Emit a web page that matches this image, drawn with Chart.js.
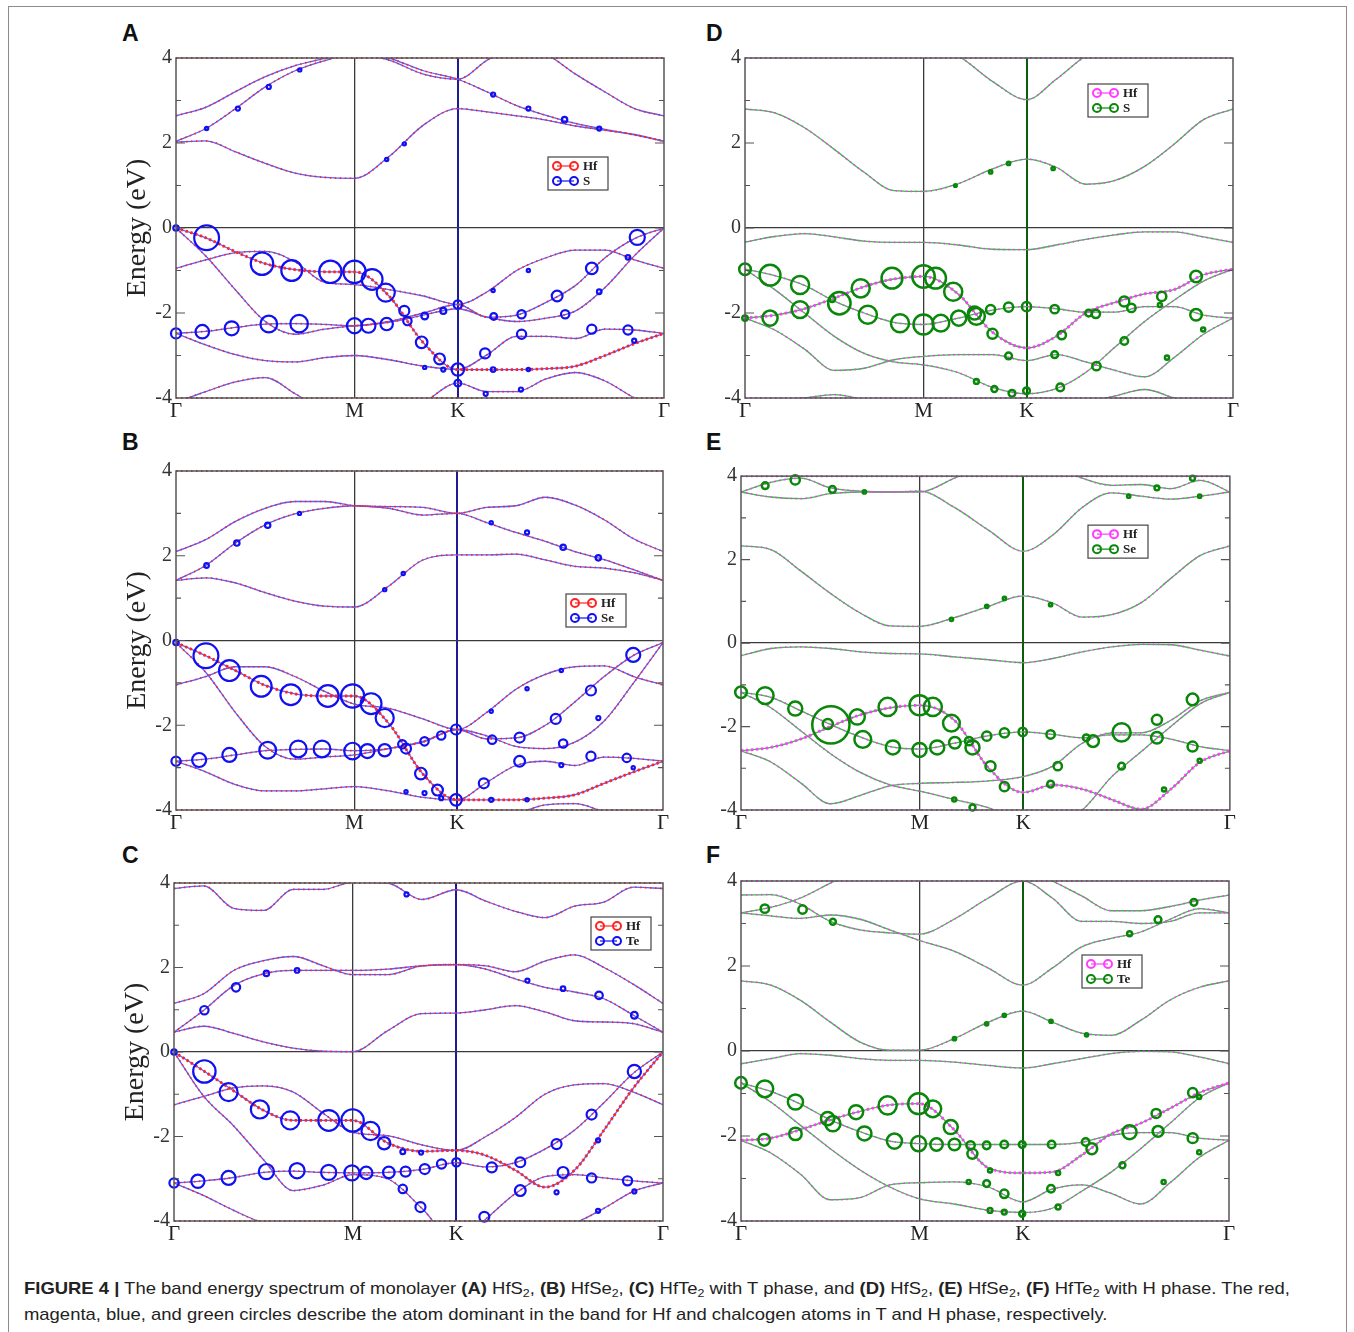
<!DOCTYPE html>
<html>
<head>
<meta charset="utf-8">
<script src="https://cdn.jsdelivr.net/npm/chart.js@4.4.1/dist/chart.umd.min.js"></script>
<style>
  body { margin: 0; background: #fff; width: 1354px; height: 1332px; position: relative; overflow: hidden; font-family: "Liberation Sans", Arial, sans-serif; }
  .outline { position: absolute; left: 8px; top: 6px; width: 1337px; height: 1400px; border: 1px solid #8c8c8c; }
  .tag { position: absolute; font: bold 23px/1 "Liberation Sans", Arial, sans-serif; color: #111; }
  .panel { position: absolute; }
  .caption { position: absolute; left: 24px; top: 1275px; font-size: 16.4px; line-height: 26px; color: #222; white-space: nowrap;
             transform: scaleX(1.125); transform-origin: 0 0; }
  .caption sub { font-size: 11px; line-height: 0; vertical-align: -3px; }
</style>
</head>
<body>
<div class="outline"></div>
<div class="tag" style="left:122px;top:22px">A</div>
<div class="tag" style="left:122px;top:431px">B</div>
<div class="tag" style="left:122px;top:844px">C</div>
<div class="tag" style="left:706px;top:22px">D</div>
<div class="tag" style="left:706px;top:431px">E</div>
<div class="tag" style="left:706px;top:844px">F</div>

<canvas id="panelA" class="panel"></canvas>
<canvas id="panelB" class="panel"></canvas>
<canvas id="panelC" class="panel"></canvas>
<canvas id="panelD" class="panel"></canvas>
<canvas id="panelE" class="panel"></canvas>
<canvas id="panelF" class="panel"></canvas>

<div class="caption"><b>FIGURE 4 |</b> The band energy spectrum of monolayer <b>(A)</b> HfS<sub>2</sub>, <b>(B)</b> HfSe<sub>2</sub>, <b>(C)</b> HfTe<sub>2</sub> with T phase, and <b>(D)</b> HfS<sub>2</sub>, <b>(E)</b> HfSe<sub>2</sub>, <b>(F)</b> HfTe<sub>2</sub> with H phase. The red,<br>magenta, blue, and green circles describe the atom dominant in the band for Hf and chalcogen atoms in T and H phase, respectively.</div>

<script>
// k-path Γ-M-K-Γ, distances in units of 2π/a
const kGrid = [0, 0.0962, 0.1925, 0.2887, 0.3849, 0.4811, 0.5774, 0.6885, 0.7996, 0.9107,
               1.0060, 1.1012, 1.1964, 1.2917, 1.3869, 1.4821, 1.5774];
const kTicks = [0, 0.5774, 0.9107, 1.5774];
const kLabels = ['Γ', 'M', 'K', 'Γ'];
const eTicks = [-4, -2, 0, 2, 4];

// band energies (eV) on kGrid, one row per band
const bandsA = [
  [2.02, 2.05, 1.79, 1.52, 1.29, 1.19, 1.17, 1.68, 2.42, 2.81, 2.73, 2.64, 2.54, 2.4, 2.3, 2.2, 2.04],
  [2.04, 2.34, 2.81, 3.32, 3.70, 3.94, 4.1, 3.95, 3.62, 3.5, 3.95, 4.3, 4.5, 4.6, 4.6, 4.5, 4.4],
  [2.64, 2.84, 3.21, 3.56, 3.82, 3.99, 4.15, 4.0, 3.7, 3.5, 3.2, 2.88, 2.65, 2.46, 2.32, 2.19, 2.04],
  [4.6, 4.6, 4.6, 4.5, 4.4, 4.3, 4.3, 4.4, 4.5, 4.6, 4.6, 4.4, 4.1, 3.62, 3.2, 2.81, 2.64],
  [0, -0.23, -0.56, -0.84, -0.98, -1.03, -1.03, -1.6, -2.7, -3.33, -3.33, -3.33, -3.31, -3.25, -3.0, -2.72, -2.48],
  [0, -0.66, -1.46, -2.2, -2.5, -2.38, -2.3, -2.22, -2.05, -1.9, -2.1, -2.2, -2.12, -1.95, -1.4, -0.65, 0],
  [-0.95, -0.75, -0.58, -0.55, -0.8, -1.28, -1.33, -1.45, -1.6, -1.8, -1.5, -1.0, -0.7, -0.52, -0.52, -0.75, -0.95],
  [-2.48, -2.43, -2.34, -2.26, -2.25, -2.27, -2.3, -2.2, -2.0, -1.8, -2.1, -2.05, -1.75, -1.35, -0.7, -0.25, 0],
  [-2.48, -2.75, -2.98, -3.12, -3.15, -3.05, -3.0, -3.1, -3.25, -3.33, -2.98, -2.55, -2.55, -2.6, -2.38, -2.4, -2.48],
  [-4.1, -3.85, -3.62, -3.52, -3.9, -4.3, -4.5, -4.4, -4.1, -3.65, -3.85, -3.85, -3.55, -3.4, -3.6, -4.0, -4.3]
];
const bandsB = [
  [1.42, 1.48, 1.36, 1.13, 0.93, 0.81, 0.79, 1.28, 1.9, 2.02, 2.02, 2.04, 1.9, 1.75, 1.71, 1.6, 1.42],
  [1.42, 1.77, 2.3, 2.73, 2.99, 3.12, 3.18, 3.12, 2.96, 3.0, 2.78, 2.55, 2.34, 2.1, 1.91, 1.67, 1.42],
  [2.1, 2.38, 2.81, 3.12, 3.28, 3.28, 3.18, 3.16, 3.14, 3.0, 3.14, 3.18, 3.38, 3.2, 2.85, 2.4, 2.1],
  [-0.05, -0.36, -0.71, -1.06, -1.26, -1.31, -1.31, -1.95, -3.15, -3.76, -3.76, -3.76, -3.72, -3.64, -3.37, -3.1, -2.85],
  [-0.05, -0.75, -1.7, -2.5, -2.8, -2.75, -2.7, -2.55, -2.4, -2.1, -2.25, -2.5, -2.55, -2.4, -1.9, -1.0, -0.05],
  [-1.05, -0.85, -0.62, -0.62, -0.85, -1.2, -1.5, -1.6, -1.85, -2.1, -1.7, -1.15, -0.8, -0.62, -0.6, -0.85, -1.05],
  [-2.85, -2.8, -2.7, -2.6, -2.57, -2.56, -2.6, -2.55, -2.38, -2.1, -2.32, -2.3, -2.0, -1.45, -0.85, -0.35, -0.05],
  [-2.85, -3.1, -3.4, -3.55, -3.55, -3.5, -3.45, -3.55, -3.7, -3.76, -3.35, -2.95, -2.85, -2.95, -2.75, -2.78, -2.85],
  [-4.3, -4.15, -4.05, -4.0, -4.15, -4.4, -4.6, -4.6, -4.5, -4.4, -4.3, -4.1, -3.88, -3.85, -4.05, -4.3, -4.4]
];
const bandsC = [
  [0.47, 0.61, 0.44, 0.24, 0.09, 0.02, 0.01, 0.5, 0.91, 0.92, 1.0, 1.1, 0.95, 0.74, 0.71, 0.67, 0.47],
  [0.47, 0.99, 1.57, 1.85, 1.93, 1.93, 1.93, 1.96, 2.04, 2.07, 1.96, 1.73, 1.53, 1.42, 1.26, 0.87, 0.47],
  [1.15, 1.38, 1.93, 2.16, 2.26, 2.04, 1.83, 1.83, 2.04, 2.07, 2.04, 1.9, 2.15, 2.3, 2.0, 1.6, 1.15],
  [3.87, 3.93, 3.4, 3.35, 3.85, 3.85, 4.02, 4.0, 3.61, 3.84, 3.57, 3.33, 3.18, 3.45, 3.55, 3.9, 3.87],
  [0, -0.45, -0.92, -1.38, -1.62, -1.62, -1.62, -2.15, -2.35, -2.33, -2.45, -2.8, -3.2, -2.8, -1.85, -0.85, 0],
  [0, -1.05, -1.75, -2.55, -3.28, -3.15, -2.9, -3.0, -3.7, -4.5, -3.95, -3.35, -2.95, -2.9, -2.98, -3.05, -3.1],
  [-1.25, -1.05, -0.85, -0.8, -0.95, -1.45, -1.9, -1.98, -2.2, -2.33, -2.0, -1.55, -1.0, -0.78, -0.75, -0.95, -1.25],
  [-3.1, -3.05, -2.97, -2.85, -2.82, -2.85, -2.86, -2.85, -2.78, -2.62, -2.72, -2.62, -2.3, -1.85, -1.2, -0.5, 0],
  [-3.1, -3.4, -3.75, -4.05, -4.2, -4.3, -4.4, -4.5, -4.5, -4.5, -4.4, -4.3, -4.2, -4.05, -3.7, -3.3, -3.1]
];
const bandsD = [
  [2.8, 2.71, 2.36, 1.85, 1.31, 0.88, 0.86, 1.04, 1.39, 1.62, 1.43, 1.03, 1.12, 1.45, 1.97, 2.55, 2.8],
  [4.6, 4.6, 4.6, 4.6, 4.6, 4.5, 4.3, 4.05, 3.45, 3.02, 3.5, 4.05, 4.4, 4.5, 4.6, 4.6, 4.6],
  [-0.33, -0.2, -0.13, -0.21, -0.31, -0.34, -0.34, -0.4, -0.5, -0.51, -0.4, -0.27, -0.16, -0.09, -0.09, -0.21, -0.34],
  [-2.12, -2.05, -1.9, -1.65, -1.38, -1.2, -1.14, -1.55, -2.45, -2.82, -2.55, -2.0, -1.75, -1.55, -1.45, -1.1, -0.97],
  [-0.97, -1.12, -1.35, -1.72, -2.0, -2.22, -2.27, -2.12, -1.93, -1.85, -1.9, -1.98, -1.98, -1.85, -1.85, -2.05, -2.12],
  [-2.12, -2.4, -2.85, -3.35, -3.3, -3.1, -3.02, -2.98, -2.98, -3.12, -2.98, -3.15, -3.35, -3.5, -3.05, -2.5, -2.12],
  [-0.97, -1.45, -2.0, -2.55, -2.95, -3.15, -3.22, -3.4, -3.75, -3.9, -3.78, -3.4, -2.8, -2.2, -1.7, -1.25, -0.97],
  [-4.1, -4.05, -4.0, -3.92, -4.05, -4.3, -4.5, -4.5, -4.4, -4.3, -4.2, -4.1, -3.95, -3.8, -4.0, -4.2, -4.3]
];
const bandsE = [
  [2.33, 2.24, 1.73, 1.19, 0.72, 0.41, 0.4, 0.61, 0.88, 1.13, 0.96, 0.62, 0.68, 0.97, 1.55, 2.1, 2.33],
  [3.62, 3.5, 3.46, 3.58, 3.62, 3.62, 3.64, 3.25, 2.7, 2.2, 2.59, 3.25, 3.6, 3.52, 3.45, 3.52, 3.62],
  [3.62, 3.85, 3.95, 3.72, 3.64, 3.62, 3.62, 3.95, 4.3, 4.5, 4.3, 3.95, 3.78, 3.8, 3.7, 3.9, 3.62],
  [-0.3, -0.13, -0.09, -0.13, -0.21, -0.25, -0.26, -0.33, -0.4, -0.47, -0.37, -0.21, -0.09, -0.03, -0.04, -0.17, -0.31],
  [-2.58, -2.5, -2.3, -2.0, -1.72, -1.55, -1.49, -1.85, -3.0, -3.58, -3.4, -3.5, -3.75, -3.98, -3.5, -2.85, -2.58],
  [-1.18, -1.3, -1.62, -1.95, -2.25, -2.48, -2.54, -2.4, -2.22, -2.13, -2.19, -2.27, -2.2, -2.2, -2.3, -2.48, -2.58],
  [-2.58, -2.85, -3.35, -3.85, -3.65, -3.42, -3.36, -3.34, -3.3, -3.2, -2.95, -2.4, -2.15, -2.15, -1.85, -1.38, -1.18],
  [-1.18, -1.55, -2.1, -2.65, -3.1, -3.4, -3.55, -3.75, -3.95, -4.3, -4.4, -4.0, -3.2, -2.6, -2.0, -1.45, -1.18]
];
const bandsF = [
  [1.65, 1.55, 1.19, 0.68, 0.21, 0.02, 0.02, 0.29, 0.68, 0.94, 0.68, 0.42, 0.37, 0.72, 1.2, 1.5, 1.65],
  [3.25, 3.18, 3.12, 3.2, 3.1, 2.85, 2.6, 2.35, 1.95, 1.55, 1.95, 2.45, 2.65, 2.8, 3.1, 3.35, 3.25],
  [3.67, 3.68, 3.45, 3.05, 2.85, 2.78, 2.75, 3.1, 3.6, 4.0, 3.6, 3.05, 3.05, 3.0, 3.05, 3.25, 3.25],
  [3.25, 3.38, 3.6, 3.95, 4.3, 4.5, 4.6, 4.6, 4.5, 4.3, 4.0, 3.65, 3.3, 3.3, 3.4, 3.55, 3.67],
  [-0.3, -0.18, -0.06, -0.1, -0.18, -0.22, -0.22, -0.26, -0.34, -0.4, -0.3, -0.18, -0.06, -0.01, -0.02, -0.14, -0.3],
  [-2.1, -2.05, -1.85, -1.62, -1.42, -1.27, -1.24, -1.85, -2.75, -2.87, -2.85, -2.45, -1.95, -1.7, -1.35, -0.98, -0.75],
  [-0.75, -0.95, -1.25, -1.62, -1.9, -2.12, -2.18, -2.2, -2.2, -2.2, -2.2, -2.15, -1.98, -1.92, -1.92, -2.05, -2.1],
  [-2.1, -2.4, -2.9, -3.5, -3.45, -3.15, -3.1, -3.08, -3.2, -3.55, -3.25, -3.15, -3.35, -3.6, -3.1, -2.5, -2.1],
  [-0.75, -1.2, -1.75, -2.3, -2.8, -3.2, -3.48, -3.6, -3.75, -3.8, -3.7, -3.3, -2.85, -2.3, -1.7, -1.1, -0.75]
];

// chalcogen projections: [k, E, weight]
const circlesA = [
  [0.099,-0.23,.92],[0.278,-0.84,.83],[0.374,-1.0,.77],[0.499,-1.03,.83],[0.577,-1.03,.83],[0.634,-1.21,.77],[0.678,-1.52,.67],
  [0.738,-1.95,.37],[0.748,-2.19,.31],[0.804,-2.07,.25],[0.864,-1.95,.22],[0.911,-1.8,.31],
  [0.794,-2.69,.43],[0.852,-3.08,.4],[0.911,-3.33,.46],[0.864,-3.33,.15],
  [0,-2.48,.37],[0.085,-2.44,.5],[0.18,-2.36,.52],[0.30,-2.26,.62],[0.398,-2.25,.65],[0.577,-2.3,.56],[0.622,-2.3,.52],[0.681,-2.26,.46],
  [0.911,-3.65,.25],[0.999,-2.95,.37],[1.117,-2.5,.34],[1.027,-2.08,.25],[1.117,-2.03,.31],[1.232,-1.6,.4],[1.344,-0.95,.43],[1.491,-0.22,.56],
  [1.258,-2.03,.31],[1.344,-2.38,.34],[1.461,-2.4,.34],
  [0,0,.2],[1.368,-1.5,.17],[1.461,-0.69,.17],[1.139,-1.0,.12],[1.025,-1.47,.12],[1.025,-3.33,.17],[1.139,-3.33,.12],[1.115,-3.8,.15],[1.001,-3.9,.15],[1.481,-2.65,.15],[0.804,-3.28,.12],
  [1.025,3.14,.15],[1.139,2.81,.15],[1.256,2.55,.2],[1.368,2.34,.15],[0.2,2.81,.15],[0.3,3.32,.15],[0.4,3.72,.12],[0.738,1.98,.12],[0.681,1.61,.12],[0.099,2.34,.12]
];
const circlesB = [
  [0.097,-0.36,.92],[0.173,-0.71,.77],[0.276,-1.08,.77],[0.372,-1.28,.77],[0.492,-1.31,.8],[0.572,-1.31,.86],[0.632,-1.49,.77],[0.676,-1.83,.67],
  [0.733,-2.45,.31],[0.745,-2.55,.37],[0.805,-2.38,.31],[0.859,-2.24,.31],[0.907,-2.1,.37],
  [0.793,-3.14,.43],[0.847,-3.53,.4],[0.907,-3.76,.43],[0.859,-3.72,.15],
  [0,-2.85,.34],[0.075,-2.82,.52],[0.173,-2.7,.52],[0.297,-2.59,.62],[0.396,-2.56,.62],[0.473,-2.56,.62],[0.572,-2.61,.62],[0.62,-2.61,.52],[0.676,-2.59,.46],
  [0.997,-3.37,.37],[1.113,-2.85,.4],[1.024,-2.34,.31],[1.113,-2.29,.37],[1.23,-1.85,.37],[1.344,-1.18,.37],[1.481,-0.34,.52],
  [1.254,-2.43,.31],[1.344,-2.73,.34],[1.46,-2.77,.31],
  [0,-0.05,.2],[1.368,-1.83,.15],[1.248,-0.71,.12],[1.137,-1.14,.12],[1.021,-1.67,.12],[1.021,-3.76,.15],[1.137,-3.76,.12],[1.481,-3.0,.12],[1.248,-2.94,.15],[0.805,-3.6,.15],[0.745,-3.57,.12],
  [1.021,2.78,.12],[1.137,2.55,.15],[1.254,2.2,.2],[1.368,1.95,.2],[0.099,1.77,.17],[0.197,2.3,.2],[0.297,2.72,.2],[0.4,3.0,.12],[0.676,1.2,.12],[0.736,1.58,.12]
];
const circlesC = [
  [0.098,-0.46,.83],[0.176,-0.95,.67],[0.277,-1.36,.67],[0.375,-1.62,.67],[0.499,-1.62,.77],[0.576,-1.62,.83],[0.634,-1.87,.67],[0.678,-2.16,.46],[0.738,-2.36,.18],
  [0,-3.1,.34],[0.077,-3.06,.49],[0.176,-2.98,.52],[0.298,-2.83,.56],[0.397,-2.81,.56],[0.499,-2.85,.56],[0.574,-2.86,.56],[0.62,-2.86,.46],[0.693,-2.85,.43],[0.747,-2.83,.37],[0.809,-2.77,.37],[0.863,-2.65,.34],[0.911,-2.61,.31],
  [0.738,-3.24,.31],[0.795,-3.67,.37],[1.001,-3.9,.37],[1.025,-2.73,.37],[1.117,-2.61,.37],[1.117,-3.28,.4],[1.255,-2.85,.4],[1.234,-2.18,.37],[1.347,-1.48,.37],[1.485,-0.46,.49],[1.347,-2.98,.34],[1.463,-3.05,.34],
  [0.098,0.99,.31],[0.2,1.53,.31],[1.371,1.34,.28],[1.485,0.87,.25],
  [0,0,.2],[0.298,1.86,.2],[0.397,1.93,.17],[1.255,1.5,.17],[1.14,1.69,.15],[1.368,-2.09,.15],[1.485,-3.3,.15],[1.234,-3.32,.15],[1.368,-3.76,.15],[0.797,-2.38,.15],[0.75,3.73,.15]
];
const circlesD = [
  [0,-0.97,.43],[0.081,-1.11,.77],[0.178,-1.34,.67],[0.305,-1.77,.83],[0.397,-2.04,.67],[0.501,-2.24,.67],[0.577,-2.27,.74],[0.633,-2.24,.62],[0.691,-2.12,.56],[0.742,-2.0,.49],[0.794,-1.92,.34],[0.852,-1.86,.34],[0.91,-1.85,.34],[1.001,-1.91,.31],[1.111,-2.0,.25],[1.134,-2.02,.31],[1.458,-2.04,.43],
  [0.081,-2.12,.56],[0.178,-1.92,.62],[0.282,-1.67,.22],[0.374,-1.42,.67],[0.475,-1.18,.77],[0.577,-1.14,.83],[0.616,-1.18,.77],[0.673,-1.5,.67],[0.748,-2.08,.62],[0.8,-2.49,.37],[1.024,-2.52,.31],[1.226,-1.73,.37],[1.249,-1.88,.31],[1.347,-1.61,.34],[1.458,-1.14,.43],
  [0.852,-3.01,.25],[1.001,-2.98,.25],[1.136,-3.25,.31],[1.226,-2.66,.28],[0.748,-3.61,.18],[0.806,-3.79,.22],[0.863,-3.89,.25],[0.91,-3.83,.25],[1.019,-3.75,.28],
  [0,-2.12,.2],[1.364,-3.05,.15],[1.341,-1.81,.15],[1.481,-2.39,.15],[0.68,1.0,.1],[0.794,1.32,.12],[0.852,1.52,.12],[0.996,1.4,.12]
];
const circlesE = [
  [0,-1.18,.43],[0.078,-1.26,.62],[0.175,-1.57,.52],[0.29,-1.96,1.38],[0.28,-1.94,.37],[0.375,-1.77,.56],[0.393,-2.31,.62],[0.473,-1.53,.67],[0.49,-2.5,.52],[0.576,-1.49,.74],[0.576,-2.56,.52],[0.619,-1.53,.67],[0.633,-2.5,.52],[0.679,-1.92,.62],[0.69,-2.39,.43],[0.736,-2.35,.31],[0.747,-2.5,.52],[0.793,-2.23,.34],[0.85,-2.15,.34],[0.909,-2.13,.31],[0.805,-2.95,.37],[0.85,-3.44,.34],
  [0.999,-2.19,.31],[1.022,-2.95,.31],[0.999,-3.38,.25],[1.114,-2.27,.25],[1.136,-2.35,.43],[1.228,-2.14,.67],[1.228,-2.95,.25],[1.342,-1.84,.37],[1.342,-2.27,.43],[1.457,-1.35,.43],[1.457,-2.48,.37],
  [0.078,3.77,.25],[0.175,3.91,.34],[0.295,3.68,.25],[1.342,3.72,.18],[1.457,3.95,.18],[0.747,-3.94,.22],[0.688,-3.75,.15],
  [1.48,-2.82,.15],[1.365,-3.51,.15],[0.679,0.57,.12],[0.793,0.88,.12],[0.85,1.07,.12],[0.999,0.92,.12],[0.398,3.62,.12],[1.251,3.52,.12],[1.48,3.52,.12]
];
const circlesF = [
  [0,-0.75,.43],[0.077,-0.89,.62],[0.176,-1.2,.56],[0.28,-1.59,.49],[0.297,-1.71,.56],[0.399,-1.94,.52],[0.496,-2.12,.56],[0.574,-2.18,.56],[0.632,-2.2,.46],[0.69,-2.2,.43],[0.742,-2.22,.31],[0.794,-2.22,.28],[0.851,-2.2,.28],[0.909,-2.2,.25],[1.004,-2.2,.28],[1.114,-2.14,.28],[1.348,-1.89,.4],[1.46,-2.05,.37],
  [0.075,-2.09,.43],[0.176,-1.95,.46],[0.372,-1.44,.52],[0.474,-1.28,.67],[0.574,-1.24,.77],[0.62,-1.36,.62],[0.678,-1.79,.52],[0.748,-2.42,.37],[1.134,-2.3,.4],[1.256,-1.91,.52],[1.342,-1.47,.34],[1.46,-0.98,.34],
  [0.794,-3.12,.25],[0.851,-3.36,.31],[1.002,-3.24,.28],[0.851,-3.79,.18],[0.909,-3.83,.22],[1.025,-3.67,.18],[0.805,-3.75,.18],[1.233,-2.69,.22],
  [0.077,3.35,.31],[0.199,3.33,.31],[0.297,3.04,.22],[1.464,3.5,.25],[1.348,3.09,.25],[1.256,2.76,.18],
  [1.481,-2.38,.15],[1.366,-3.08,.15],[0.736,-3.08,.15],[0.805,-2.81,.15],[1.025,-2.87,.15],[1.481,-1.08,.15],[0.69,0.29,.12],[0.794,0.64,.12],[0.851,0.84,.12],[1.002,0.7,.12],[1.117,0.38,.12]
];

const legendA = ['Hf', 'S'];
const legendB = ['Hf', 'Se'];
const legendC = ['Hf', 'Te'];
const legendD = ['Hf', 'S'];
const legendE = ['Hf', 'Se'];
const legendF = ['Hf', 'Te'];

const SERIF = '"Liberation Serif", "Times New Roman", serif';
const T_PHASE = { band: '#5c5cff', hf: '#ff2424', atom: '#1010f0', kLine: '#1c1c94', ring: 2.2 };
const H_PHASE = { band: '#3db84a', hf: '#ff3cff', atom: '#0a860a', kLine: '#0c5e0c', ring: 2.5 };
const R_MAX = 13.5;
const Y_WIDTH = 60, PAD_TOP = 14, PAD_RIGHT = 16, X_HEIGHT = 34;

// frame, inward ticks, edge dots and the small legend box
const panelFrame = {
  id: 'panelFrame',
  afterDatasetsDraw(chart, args, o) {
    const { ctx, chartArea: a, scales: { y } } = chart;
    ctx.save();
    ctx.setLineDash([1.6, 3.4]);
    ctx.lineWidth = 2;
    ctx.strokeStyle = o.colors.hf;
    [a.top, a.bottom].forEach(py => {
      ctx.beginPath(); ctx.moveTo(a.left, py); ctx.lineTo(a.right, py); ctx.stroke();
    });
    ctx.setLineDash([]);
    ctx.strokeStyle = '#555';
    ctx.lineWidth = 1.5;
    ctx.strokeRect(a.left, a.top, a.right - a.left, a.bottom - a.top);
    ctx.lineWidth = 1.2;
    for (let e = -3; e <= 3; e++) {
      const py = y.getPixelForValue(e);
      const len = e % 2 === 0 ? 9 : 5;
      ctx.beginPath();
      ctx.moveTo(a.left, py); ctx.lineTo(a.left + len, py);
      ctx.moveTo(a.right, py); ctx.lineTo(a.right - len, py);
      ctx.stroke();
    }
    ctx.restore();
  },
  afterDraw(chart, args, o) {
    const { ctx, chartArea: a } = chart;
    const bx = a.left + o.legendAt[0], by = a.top + o.legendAt[1];
    ctx.save();
    ctx.fillStyle = '#fff';
    ctx.fillRect(bx, by, 60, 33);
    ctx.strokeStyle = '#444';
    ctx.lineWidth = 1.2;
    ctx.strokeRect(bx, by, 60, 33);
    o.legend.forEach((label, i) => {
      const cy = by + 9 + i * 15;
      const col = i === 0 ? o.colors.hf : o.colors.atom;
      ctx.strokeStyle = col;
      ctx.lineWidth = 1.2;
      ctx.beginPath(); ctx.moveTo(bx + 9, cy); ctx.lineTo(bx + 26, cy); ctx.stroke();
      ctx.lineWidth = 2;
      [bx + 9, bx + 26].forEach(cx => {
        ctx.beginPath(); ctx.arc(cx, cy, 4, 0, Math.PI * 2); ctx.stroke();
      });
      ctx.fillStyle = '#222';
      ctx.font = 'bold 13px ' + SERIF;
      ctx.textBaseline = 'middle';
      ctx.fillText(label, bx + 35, cy + 1);
    });
    ctx.restore();
  }
};

function bandPanel(id, rect, bands, heavy, circles, legend, legendAt, colors, showTitle) {
  const [L, T, R, B] = rect;
  const el = document.getElementById(id);
  el.width = (R - L) + Y_WIDTH + PAD_RIGHT;
  el.height = (B - T) + PAD_TOP + X_HEIGHT;
  el.style.left = (L - Y_WIDTH) + 'px';
  el.style.top = (T - PAD_TOP) + 'px';

  const datasets = [];
  bands.forEach((band, i) => {
    const pts = band.map((e, j) => ({ x: kGrid[j], y: e }));
    datasets.push({ data: pts, borderColor: colors.band, borderWidth: 1.3, pointRadius: 0,
      cubicInterpolationMode: 'monotone', order: 3 });
    datasets.push({ data: pts, borderColor: colors.hf, pointRadius: 0,
      borderWidth: i === heavy ? 2.8 : 1.7, borderDash: i === heavy ? [2.4, 2.6] : [1.4, 3.6],
      cubicInterpolationMode: 'monotone', order: 2 });
  });
  datasets.push({
    type: 'bubble',
    data: circles.map(([k, e, w]) => ({ x: k, y: e, r: w * R_MAX })),
    borderColor: colors.atom, backgroundColor: 'rgba(0,0,0,0)', borderWidth: colors.ring,
    clip: false, order: 1
  });

  return new Chart(el, {
    type: 'line',
    data: { datasets },
    options: {
      responsive: false,
      animation: false,
      events: [],
      layout: { padding: { left: 0, top: PAD_TOP, right: PAD_RIGHT, bottom: 0 } },
      plugins: {
        legend: { display: false },
        tooltip: { enabled: false },
        panelFrame: { legend, legendAt, colors }
      },
      scales: {
        x: {
          type: 'linear', min: 0, max: kTicks[3],
          afterBuildTicks: s => { s.ticks = kTicks.map(v => ({ value: v })); },
          afterFit: s => { s.height = X_HEIGHT; },
          ticks: { callback: (v, i) => kLabels[i], autoSkip: false, maxRotation: 0, padding: 1,
                   font: { family: SERIF, size: 21 }, color: '#222' },
          grid: {
            drawTicks: false,
            color: c => c.index === 1 ? '#3a3a3a' : c.index === 2 ? colors.kLine : 'rgba(0,0,0,0)',
            lineWidth: c => c.index === 2 ? 2 : 1.3
          },
          border: { display: false }
        },
        y: {
          min: -4, max: 4,
          afterBuildTicks: s => { s.ticks = eTicks.map(v => ({ value: v })); },
          afterFit: s => { s.width = Y_WIDTH; },
          ticks: { callback: v => String(v), padding: 4, font: { family: SERIF, size: 20 }, color: '#333' },
          grid: {
            drawTicks: false,
            color: c => c.tick && c.tick.value === 0 ? '#3a3a3a' : 'rgba(0,0,0,0)',
            lineWidth: 1.3
          },
          border: { display: false },
          title: { display: showTitle, text: 'Energy (eV)', color: '#222', padding: { top: 5, bottom: 0 },
                   font: { family: SERIF, size: 28 } }
        }
      }
    },
    plugins: [panelFrame]
  });
}

bandPanel('panelA', [176, 56, 664, 398], bandsA, 4, circlesA, legendA, [372, 99], T_PHASE, true);
bandPanel('panelB', [176, 469, 663, 810], bandsB, 3, circlesB, legendB, [390, 123], T_PHASE, true);
bandPanel('panelC', [174, 881, 663, 1221], bandsC, 4, circlesC, legendC, [417, 34], T_PHASE, true);
bandPanel('panelD', [745, 56, 1233, 398], bandsD, 3, circlesD, legendD, [343, 26], H_PHASE, false);
bandPanel('panelE', [741, 469, 1235, 810], bandsE, 4, circlesE, legendE, [347, 49], H_PHASE, false);
bandPanel('panelF', [741, 879, 1229, 1221], bandsF, 5, circlesF, legendF, [341, 74], H_PHASE, false);
</script>
</body>
</html>
